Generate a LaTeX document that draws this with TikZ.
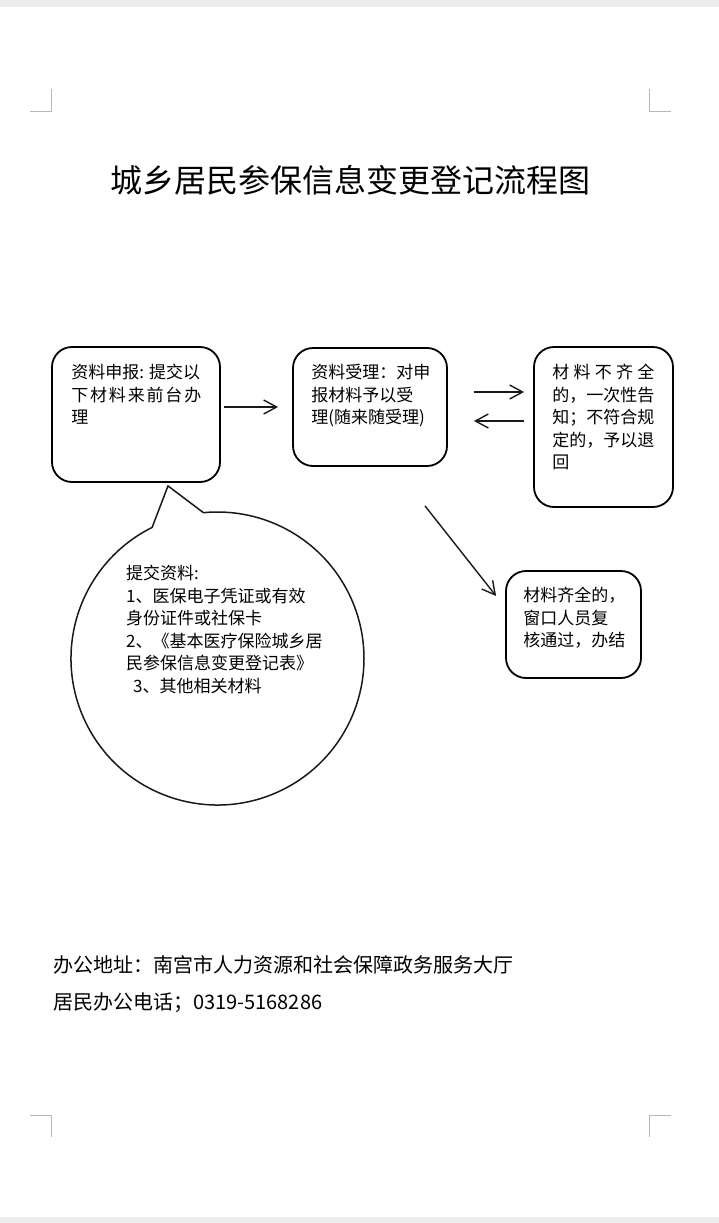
\documentclass[tikz,border=0pt]{standalone}
\usepackage{fontspec}
\setmainfont{Noto Sans CJK SC}
\usetikzlibrary{arrows.meta,shapes.callouts}

% one line of a box, stretched to the given width
\newcommand\spreadrow[2]{\hbox to #1{#2}}

\begin{document}
\begin{tikzpicture}[
  x=1pt,y=-1pt,
  >={Straight Barb[length=13pt,width=14pt]},
  box/.style={draw=black,line width=1.8pt,rounded corners=20pt,inner sep=0pt},
  boxtext/.style={anchor=north west,align=left,inner sep=0pt,
                  font=\fontsize{17pt}{22.5pt}\selectfont,text=black},
  flow/.style={->,line width=1.4pt,draw=black!90},
  cropmark/.style={draw=black!28,line width=0.9pt},
]

% the page, with the grey strips of the viewer at top and bottom
\fill[white] (0,0) rectangle (719,1223);
\fill[black!7] (0,0) rectangle (719,7);
\fill[black!7] (0,1217) rectangle (719,1223);

% corner marks of the page
\draw[cropmark] (30,111) -- (51,111) -- (51,89);
\draw[cropmark] (649,89) -- (649,111) -- (671,111);
\draw[cropmark] (30,1115) -- (51,1115) -- (51,1137);
\draw[cropmark] (671,1115) -- (649,1115) -- (649,1137);

% title
\node[font=\fontsize{32pt}{36pt}\selectfont,text=black] (title) at (350,180)
     {城乡居民参保信息变更登记流程图};

% (1) the application
\node[box,minimum width=168,minimum height=135] (apply) at (136,414.5) {};
\node[boxtext] (applytext) at ([shift={(20pt,-18pt)}]apply.north west)
     {资料申报: 提交以\\
      \spreadrow{130pt}{下\hfill 材\hfill 料\hfill 来\hfill 前\hfill 台\hfill 办}\\
      理};

% (2) the desk takes it in
\node[box,minimum width=154,minimum height=118] (accept) at (370,407) {};
\node[boxtext] (accepttext) at ([shift={(19pt,-17pt)}]accept.north west)
     {资料受理：对申\\
      报材料予以受\\
      理(随来随受理)};

% (3a) papers missing or not valid
\node[box,minimum width=139,minimum height=160] (reject) at (603.5,427) {};
\node[boxtext] (rejecttext) at ([shift={(19pt,-18pt)}]reject.north west)
     {\spreadrow{102pt}{材\hfill 料\hfill 不\hfill 齐\hfill 全}\\
      的，一次性告\\
      知；不符合规\\
      定的，予以退\\
      回};

% (3b) papers complete
\node[box,minimum width=135,minimum height=107] (finish) at (573.5,624.5) {};
\node[boxtext] (finishtext) at ([shift={(18pt,-17pt)}]finish.north west)
     {材料齐全的，\\
      窗口人员复\\
      核通过，办结};

% what has to be handed in: a speech bubble under the first box
\coordinate (tip) at ([shift={(32pt,-3pt)}]apply.south);
\node[ellipse callout,draw=black!90,line width=1.5pt,
      minimum width=293,minimum height=293,
      callout absolute pointer={(tip)},callout pointer arc=21] (bubble)
      at (217.5,658.5) {};
\node[boxtext] (needs) at ([shift={(-91.5pt,93.5pt)}]bubble.center)
     {提交资料:\\
      1、医保电子凭证或有效\\
      身份证件或社保卡\\
      2、《基本医疗保险城乡居\\
      民参保信息变更登记表》\\
      \hspace*{7pt}3、其他相关材料};

% arrows
\draw[flow] ([xshift=-68pt]accept.west) -- ([xshift=-14pt]accept.west);
\draw[flow] ([shift={(26pt,15pt)}]accept.east) -- ([shift={(-9pt,35pt)}]reject.west);
\draw[flow] ([shift={(-9pt,6pt)}]reject.west) -- ([shift={(26pt,-14pt)}]accept.east);
\draw[flow] ([shift={(55pt,-39pt)}]accept.south) -- ([shift={(-9pt,28.5pt)}]finish.west);

% office address and phone
\node[anchor=north west,align=left,inner sep=0pt,text=black,
      font=\fontsize{20pt}{37pt}\selectfont] (office) at (53,955)
     {办公地址：南宫市人力资源和社会保障政务服务大厅\\
      居民办公电话；0319-5168286};

\end{tikzpicture}
\end{document}
